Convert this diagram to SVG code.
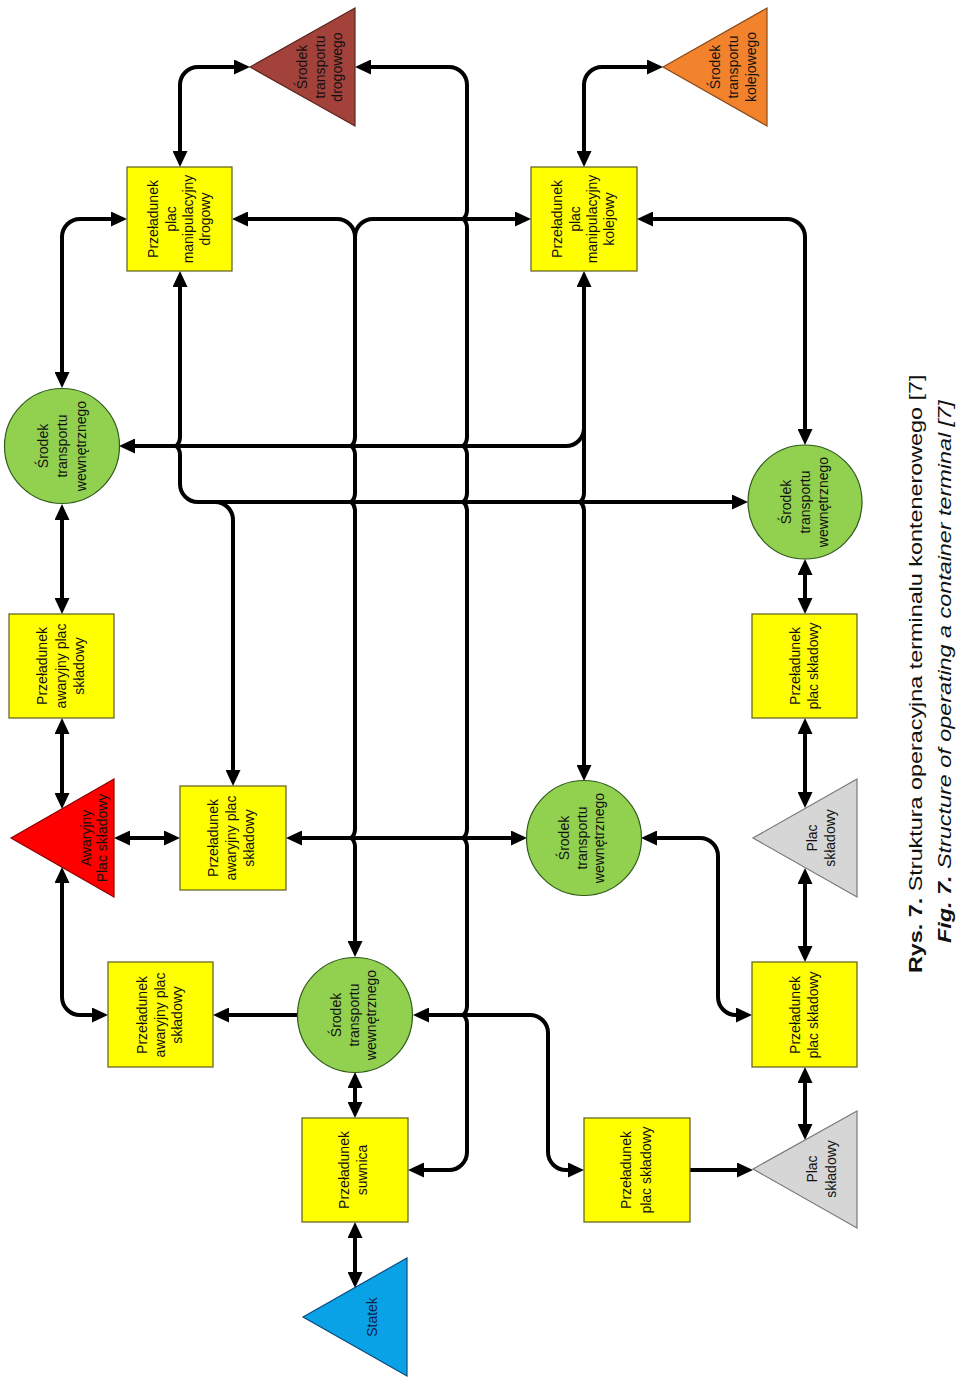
<svg xmlns="http://www.w3.org/2000/svg" width="960" height="1381" viewBox="0 0 960 1381">
<defs>
<style>
.c{fill:none;stroke:#000;stroke-width:4}
.bi{marker-start:url(#ah);marker-end:url(#ah)}
.en{marker-end:url(#ah)}
.box{fill:#ffff00;stroke:#5c5c1e;stroke-width:1.2}
.circ{fill:#92d050;stroke:#2f5a1a;stroke-width:1.2}
.t{font-family:"Liberation Sans",Arial,sans-serif;font-size:14px;fill:#111;text-anchor:middle}
.cap{font-family:"Liberation Sans",Arial,sans-serif;font-size:19px;fill:#111}
</style>
<marker id="ah" viewBox="0 0 16 15" refX="6" refY="7.5" markerWidth="16" markerHeight="15" markerUnits="userSpaceOnUse" orient="auto-start-reverse">
<path d="M0,0 L16,7.5 L0,15 z" fill="#000"/>
</marker>
</defs>
<rect x="0" y="0" width="960" height="1381" fill="#fff"/>

<g id="connectors">
<path class="c bi" d="M180,157 L180,85 A18,18 0 0 1 198,67 L240,67"/>
<path class="c bi" d="M584,157 L584,85 A18,18 0 0 1 602,67 L653,67"/>
<path class="c bi" d="M418,1170 L449,1170 A18,18 0 0 0 467,1152 L467,1024 Q467,1018 463,1015 Q467,1012 467,1006 L467,847 Q467,841 463,838 Q467,835 467,829 L467,511 Q467,505 463,502 Q467,499 467,493 L467,455 Q467,449 463,446 Q467,443 467,437 L467,228 Q467,222 463,219 Q467,216 467,210 L467,85 A18,18 0 0 0 449,67 L365,67"/>
<path class="c bi" d="M242,219 L337,219 A18,18 0 0 1 355,237 L355,437 Q355,443 351,446 Q355,449 355,455 L355,493 Q355,499 351,502 Q355,505 355,511 L355,829 Q355,835 351,838 Q355,841 355,847 L355,947"/>
<path class="c en" d="M355,237 A18,18 0 0 1 373,219 L521,219"/>
<path class="c bi" d="M62,378 L62,237 A18,18 0 0 1 80,219 L117,219"/>
<path class="c bi" d="M62,514 L62,604"/>
<path class="c bi" d="M62,728 L62,799"/>
<path class="c bi" d="M124,838 L170,838"/>
<path class="c bi" d="M62,877 L62,997 A18,18 0 0 0 80,1015 L98,1015"/>
<path class="c en" d="M298,1015 L223,1015"/>
<path class="c bi" d="M296,838 L517,838"/>
<path class="c bi" d="M180,281 L180,437 Q180,443 176,446 Q180,449 180,455 L180,484 A18,18 0 0 0 198,502 L738,502"/>
<path class="c en" d="M215,502 A18,18 0 0 1 233,520 L233,776"/>
<path class="c bi" d="M584,281 L584,493 Q584,499 580,502 Q584,505 584,511 L584,771"/>
<path class="c en" d="M584,428 A18,18 0 0 1 566,446 L129,446"/>
<path class="c bi" d="M647,219 L787,219 A18,18 0 0 1 805,237 L805,435"/>
<path class="c bi" d="M805,569 L805,604"/>
<path class="c bi" d="M805,728 L805,798"/>
<path class="c bi" d="M805,878 L805,952"/>
<path class="c bi" d="M651,838 L700,838 A18,18 0 0 1 718,856 L718,997 A18,18 0 0 0 736,1015 L742,1015"/>
<path class="c bi" d="M805,1077 L805,1130"/>
<path class="c en" d="M690,1170 L743,1170"/>
<path class="c bi" d="M423,1015 L530,1015 A18,18 0 0 1 548,1033 L548,1152 A18,18 0 0 0 566,1170 L574,1170"/>
<path class="c bi" d="M355,1082 L355,1108"/>
<path class="c bi" d="M355,1232 L355,1278"/>
</g>

<g id="n-drogowy-tri">
<polygon points="250,67 355,8 355,126" fill="#a3423b" stroke="#5a2620" stroke-width="1.2"/>
<text class="t" transform="translate(0,67) rotate(-90)"><tspan x="0" y="307">Środek</tspan><tspan x="0" y="325">transportu</tspan><tspan x="0" y="342">drogowego</tspan></text>
</g>
<g id="n-kolejowy-tri">
<polygon points="663,67 767,8 767,126" fill="#f2832c" stroke="#8a4a1a" stroke-width="1.2"/>
<text class="t" transform="translate(0,67) rotate(-90)"><tspan x="0" y="720">Środek</tspan><tspan x="0" y="738">transportu</tspan><tspan x="0" y="756">kolejowego</tspan></text>
</g>
<g id="n-manip-drogowy">
<rect class="box" x="127" y="167" width="105" height="104"/>
<text class="t" transform="translate(0,219) rotate(-90)"><tspan x="0" y="158">Przeładunek</tspan><tspan x="0" y="176">plac</tspan><tspan x="0" y="193">manipulacyjny</tspan><tspan x="0" y="210">drogowy</tspan></text>
</g>
<g id="n-manip-kolejowy">
<rect class="box" x="531" y="167" width="106" height="104"/>
<text class="t" transform="translate(0,219) rotate(-90)"><tspan x="0" y="562">Przeładunek</tspan><tspan x="0" y="580">plac</tspan><tspan x="0" y="597">manipulacyjny</tspan><tspan x="0" y="614">kolejowy</tspan></text>
</g>
<g id="n-circle-left">
<circle class="circ" cx="62" cy="446" r="57.5"/>
<text class="t" transform="translate(0,446) rotate(-90)"><tspan x="0" y="48">Środek</tspan><tspan x="0" y="67">transportu</tspan><tspan x="0" y="86">wewnętrznego</tspan></text>
</g>
<g id="n-awaryjny-1">
<rect class="box" x="9" y="614" width="105" height="104"/>
<text class="t" transform="translate(0,666) rotate(-90)"><tspan x="0" y="47">Przeładunek</tspan><tspan x="0" y="66">awaryjny plac</tspan><tspan x="0" y="84">składowy</tspan></text>
</g>
<g id="n-circle-right">
<circle class="circ" cx="805" cy="502" r="57"/>
<text class="t" transform="translate(0,502) rotate(-90)"><tspan x="0" y="791">Środek</tspan><tspan x="0" y="810">transportu</tspan><tspan x="0" y="828">wewnętrznego</tspan></text>
</g>
<g id="n-plac-1">
<rect class="box" x="752" y="614" width="105" height="104"/>
<text class="t" transform="translate(0,666) rotate(-90)"><tspan x="0" y="800">Przeładunek</tspan><tspan x="0" y="818">plac składowy</tspan></text>
</g>
<g id="n-awaryjny-tri">
<polygon points="11,838 114,779 114,897" fill="#ff0000" stroke="#8a0000" stroke-width="1.2"/>
<text class="t" transform="translate(0,838) rotate(-90)"><tspan x="0" y="91">Awaryjny</tspan><tspan x="0" y="107">Plac składowy</tspan></text>
</g>
<g id="n-awaryjny-2">
<rect class="box" x="180" y="786" width="106" height="104"/>
<text class="t" transform="translate(0,838) rotate(-90)"><tspan x="0" y="218">Przeładunek</tspan><tspan x="0" y="236">awaryjny plac</tspan><tspan x="0" y="254">składowy</tspan></text>
</g>
<g id="n-circle-mid">
<circle class="circ" cx="584" cy="838" r="57.5"/>
<text class="t" transform="translate(0,838) rotate(-90)"><tspan x="0" y="569">Środek</tspan><tspan x="0" y="587">transportu</tspan><tspan x="0" y="604">wewnętrznego</tspan></text>
</g>
<g id="n-plac-tri-1">
<polygon points="753,838 857,779 857,897" fill="#d6d6d6" stroke="#7a7a7a" stroke-width="1.2"/>
<text class="t" transform="translate(0,838) rotate(-90)"><tspan x="0" y="817">Plac</tspan><tspan x="0" y="835">składowy</tspan></text>
</g>
<g id="n-awaryjny-3">
<rect class="box" x="108" y="962" width="105" height="105"/>
<text class="t" transform="translate(0,1015) rotate(-90)"><tspan x="0" y="147">Przeładunek</tspan><tspan x="0" y="165">awaryjny plac</tspan><tspan x="0" y="182">składowy</tspan></text>
</g>
<g id="n-circle-low">
<circle class="circ" cx="355" cy="1015" r="57.5"/>
<text class="t" transform="translate(0,1015) rotate(-90)"><tspan x="0" y="341">Środek</tspan><tspan x="0" y="359">transportu</tspan><tspan x="0" y="376">wewnętrznego</tspan></text>
</g>
<g id="n-plac-2">
<rect class="box" x="752" y="962" width="105" height="105"/>
<text class="t" transform="translate(0,1015) rotate(-90)"><tspan x="0" y="800">Przeładunek</tspan><tspan x="0" y="818">plac składowy</tspan></text>
</g>
<g id="n-suwnica">
<rect class="box" x="302" y="1118" width="106" height="104"/>
<text class="t" transform="translate(0,1170) rotate(-90)"><tspan x="0" y="349">Przeładunek</tspan><tspan x="0" y="367">suwnica</tspan></text>
</g>
<g id="n-plac-3">
<rect class="box" x="584" y="1118" width="106" height="104"/>
<text class="t" transform="translate(0,1170) rotate(-90)"><tspan x="0" y="631">Przeładunek</tspan><tspan x="0" y="651">plac składowy</tspan></text>
</g>
<g id="n-plac-tri-2">
<polygon points="753,1169 857,1111 857,1228" fill="#d6d6d6" stroke="#7a7a7a" stroke-width="1.2"/>
<text class="t" transform="translate(0,1169) rotate(-90)"><tspan x="0" y="817">Plac</tspan><tspan x="0" y="836">składowy</tspan></text>
</g>
<g id="n-statek">
<polygon points="303,1317 407,1258 407,1376" fill="#0aa2e6" stroke="#0a4a80" stroke-width="1.2"/>
<text class="t" transform="translate(0,1317) rotate(-90)"><tspan x="0" y="377" fill="#10204a">Statek</tspan></text>
</g>

<g id="caption">
<text class="cap" transform="translate(922,973) rotate(-90) scale(1.23,1)"><tspan font-weight="bold">Rys. 7.</tspan> Struktura operacyjna terminalu kontenerowego [7]</text>
<text class="cap" font-style="italic" transform="translate(951,943) rotate(-90) scale(1.23,1)"><tspan font-weight="bold">Fig. 7.</tspan> Structure of operating a container terminal [7]</text>
</g>
</svg>
